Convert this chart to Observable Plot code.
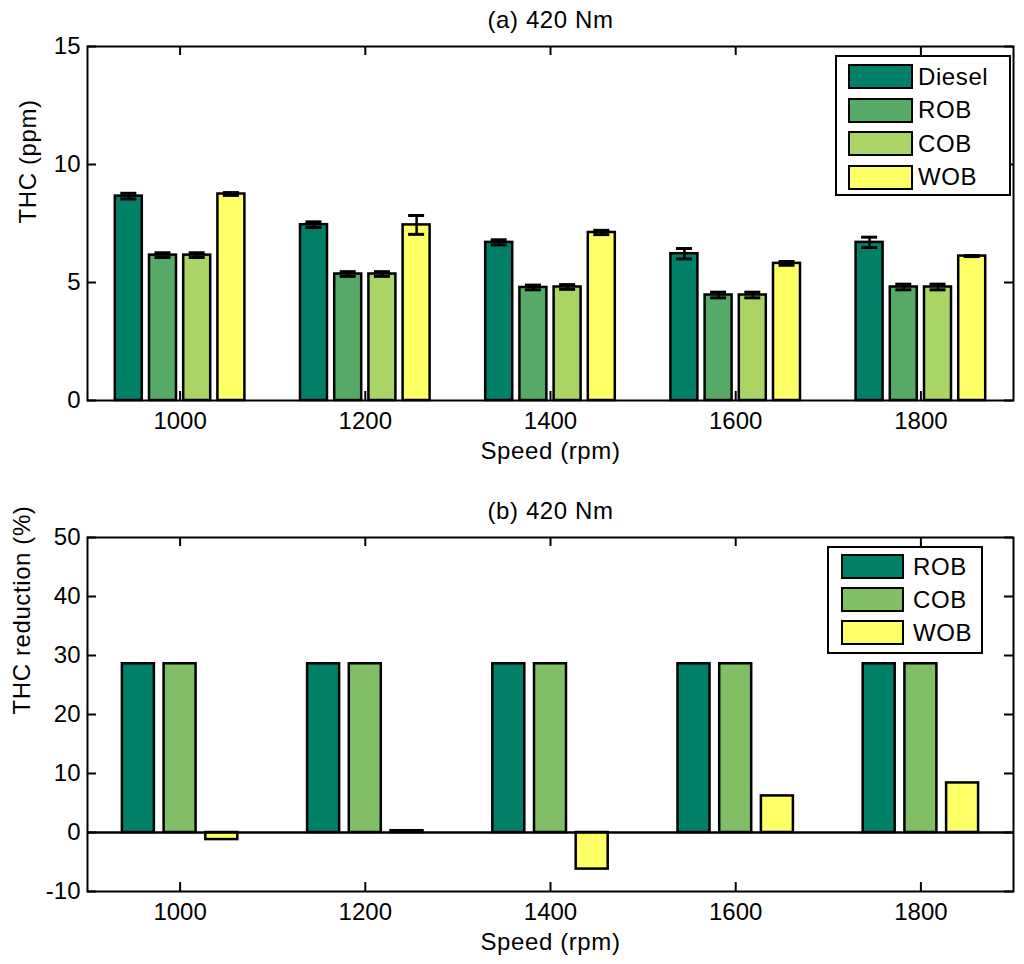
<!DOCTYPE html>
<html>
<head>
<meta charset="utf-8">
<script src="https://cdn.jsdelivr.net/npm/d3@7"></script>
<script src="https://cdn.jsdelivr.net/npm/@observablehq/plot@0.6"></script>
<style>
  body { margin: 0; background: #fff; font-family: "Liberation Sans", Arial, sans-serif; }
  #page { position: relative; width: 1024px; height: 964px; }
  #page svg { display: block; }
  .legend { position: absolute; background: #fff; border: 2px solid #000; box-sizing: border-box;
            display: flex; flex-direction: column; }
  .legend .row { display: flex; align-items: center; height: 25px; }
  .legend .sw { height: 25px; box-sizing: border-box; border: 2.5px solid #000; }
  .legend .lbl { font-size: 24px; letter-spacing: 0.6px; color: #000; }
</style>
</head>
<body>
<div id="page"></div>
<script>
// engine speeds (x categories)
const speeds = [1000, 1200, 1400, 1600, 1800];

// (a) THC emissions, ppm
const fuelsA = ["Diesel", "ROB", "COB", "WOB"];
const thcDiesel = [8.66, 7.45, 6.70, 6.22, 6.70];
const thcROB    = [6.16, 5.36, 4.79, 4.47, 4.81];
const thcCOB    = [6.16, 5.36, 4.81, 4.47, 4.81];
const thcWOB    = [8.75, 7.44, 7.12, 5.81, 6.12];
// error bar half-lengths
const errDiesel = [0.12, 0.12, 0.11, 0.22, 0.22];
const errROB    = [0.10, 0.10, 0.10, 0.12, 0.12];
const errCOB    = [0.10, 0.10, 0.10, 0.12, 0.12];
const errWOB    = [0.06, 0.40, 0.09, 0.08, 0.02];

// (b) THC reduction vs diesel, %
const fuelsB = ["ROB", "COB", "WOB"];
const redROB = [28.6, 28.6, 28.6, 28.6, 28.6];
const redCOB = [28.6, 28.6, 28.6, 28.6, 28.6];
const redWOB = [-1.2, 0.3, -6.2, 6.2, 8.4];

const yTicksA = [0, 5, 10, 15];
const yTicksB = [-10, 0, 10, 20, 30, 40, 50];

const coloursA = ["#008066", "#55aa66", "#aad466", "#ffff66"];
const coloursB = ["#008066", "#80bf66", "#ffff66"];

// layout
const W = 1024, H = 482, ML = 87, MR = 11;
const frameW = W - ML - MR;            // 926 px
const rpmPerPx = 1000 / frameW;        // x domain spans 1000 rpm
const tickLen = 9;

function rows(fuels, series, errs) {
  const out = [];
  fuels.forEach((fuel, k) => speeds.forEach((s, i) => {
    out.push({speed: s, fuel, k, value: series[k][i], err: errs ? errs[k][i] : 0});
  }));
  return out;
}

function makeChart({data, fuels, colours, yDomain, yTicks, marginTop, marginBottom,
                    pitchPx, barPx, title, ylabel, ylabelDx, errorBars}) {
  const n = fuels.length;
  const pitch = pitchPx * rpmPerPx, half = barPx * rpmPerPx / 2, cap = 8 * rpmPerPx;
  const centre = d => d.speed + (d.k - (n - 1) / 2) * pitch;
  const frameH = H - marginTop - marginBottom;
  const marks = [
    Plot.rect(data, {
      x1: d => centre(d) - half, x2: d => centre(d) + half,
      y1: 0, y2: "value",
      fill: d => colours[d.k], stroke: "#000", strokeWidth: 2.5
    })
  ];
  if (errorBars) {
    marks.push(
      Plot.ruleX(data, {x: centre, y1: d => d.value - d.err, y2: d => d.value + d.err, stroke: "#000", strokeWidth: 2.5}),
      Plot.ruleY(data, {y: d => d.value + d.err, x1: d => centre(d) - cap, x2: d => centre(d) + cap, stroke: "#000", strokeWidth: 3}),
      Plot.ruleY(data, {y: d => d.value - d.err, x1: d => centre(d) - cap, x2: d => centre(d) + cap, stroke: "#000", strokeWidth: 3})
    );
  } else {
    marks.push(Plot.ruleY([0], {stroke: "#000", strokeWidth: 2.5}));
  }
  marks.push(
    Plot.frame({stroke: "#000", strokeWidth: 2}),
    // inward ticks on all four sides
    Plot.tickY(yTicks, {insetRight: frameW - tickLen, stroke: "#000", strokeWidth: 2}),
    Plot.tickY(yTicks, {insetLeft: frameW - tickLen, stroke: "#000", strokeWidth: 2}),
    Plot.tickX(speeds, {insetTop: frameH - tickLen, stroke: "#000", strokeWidth: 2}),
    Plot.tickX(speeds, {insetBottom: frameH - tickLen, stroke: "#000", strokeWidth: 2}),
    Plot.axisX(speeds, {tickSize: 0, tickPadding: 11, tickFormat: d => String(d), label: null, fill: "#000"}),
    Plot.axisY(yTicks, {tickSize: 0, tickPadding: 7, tickFormat: d => String(d), label: null, fill: "#000"}),
    Plot.text([title], {text: d => d, frameAnchor: "top", lineAnchor: "bottom", dy: -19, fontSize: 24, fill: "#000"}),
    Plot.text(["Speed (rpm)"], {text: d => d, frameAnchor: "bottom", lineAnchor: "bottom", dy: 58, fontSize: 24, fill: "#000"}),
    Plot.text([ylabel], {text: d => d, frameAnchor: "left", rotate: -90, dx: ylabelDx, fontSize: 24, fill: "#000"})
  );
  const svg = Plot.plot({
    width: W, height: H,
    marginLeft: ML, marginRight: MR, marginTop, marginBottom,
    style: {fontFamily: '"Liberation Sans", Arial, sans-serif', fontSize: "24px", background: "#fff", color: "#000"},
    x: {domain: [900, 1900]},
    y: {domain: yDomain},
    marks
  });
  // slightly wider tracking on titles/labels, as in the original figure
  const labels = new Set([title, ylabel, "Speed (rpm)"]);
  svg.querySelectorAll("text").forEach(t => {
    if (labels.has(t.textContent)) t.style.letterSpacing = "0.6px";
  });
  return svg;
}

function legend(fuels, colours, box) {
  const div = document.createElement("div");
  div.className = "legend";
  Object.assign(div.style, {
    left: box.left + "px", top: box.top + "px", width: box.width + "px", height: box.height + "px",
    padding: box.padTop + "px 0 0 " + box.padLeft + "px", gap: box.gap + "px"
  });
  fuels.forEach((f, k) => {
    const row = document.createElement("div");
    row.className = "row";
    row.innerHTML = `<div class="sw" style="width:${box.swW}px;background:${colours[k]}"></div>` +
                    `<span class="lbl" style="margin-left:${box.txtGap}px">${f}</span>`;
    div.appendChild(row);
  });
  return div;
}

const page = document.getElementById("page");

page.appendChild(makeChart({
  data: rows(fuelsA, [thcDiesel, thcROB, thcCOB, thcWOB], [errDiesel, errROB, errCOB, errWOB]),
  fuels: fuelsA, colours: coloursA,
  yDomain: [0, 15], yTicks: yTicksA,
  marginTop: 46, marginBottom: 82,
  pitchPx: 34.2, barPx: 27,
  title: "(a) 420 Nm", ylabel: "THC (ppm)", ylabelDx: -59,
  errorBars: true
}));

page.appendChild(makeChart({
  data: rows(fuelsB, [redROB, redCOB, redWOB]),
  fuels: fuelsB, colours: coloursB,
  yDomain: [-10, 50], yTicks: yTicksB,
  marginTop: 55, marginBottom: 73,
  pitchPx: 41.7, barPx: 32,
  title: "(b) 420 Nm", ylabel: "THC reduction (%)", ylabelDx: -65,
  errorBars: false
}));

page.appendChild(legend(fuelsA, coloursA,
  {left: 835, top: 55, width: 176, height: 141, padTop: 7, padLeft: 11, gap: 8.5, swW: 65, txtGap: 5}));
page.appendChild(legend(fuelsB, coloursB,
  {left: 827, top: 546, width: 156, height: 108, padTop: 6, padLeft: 12, gap: 8, swW: 63, txtGap: 9}));
</script>
</body>
</html>
